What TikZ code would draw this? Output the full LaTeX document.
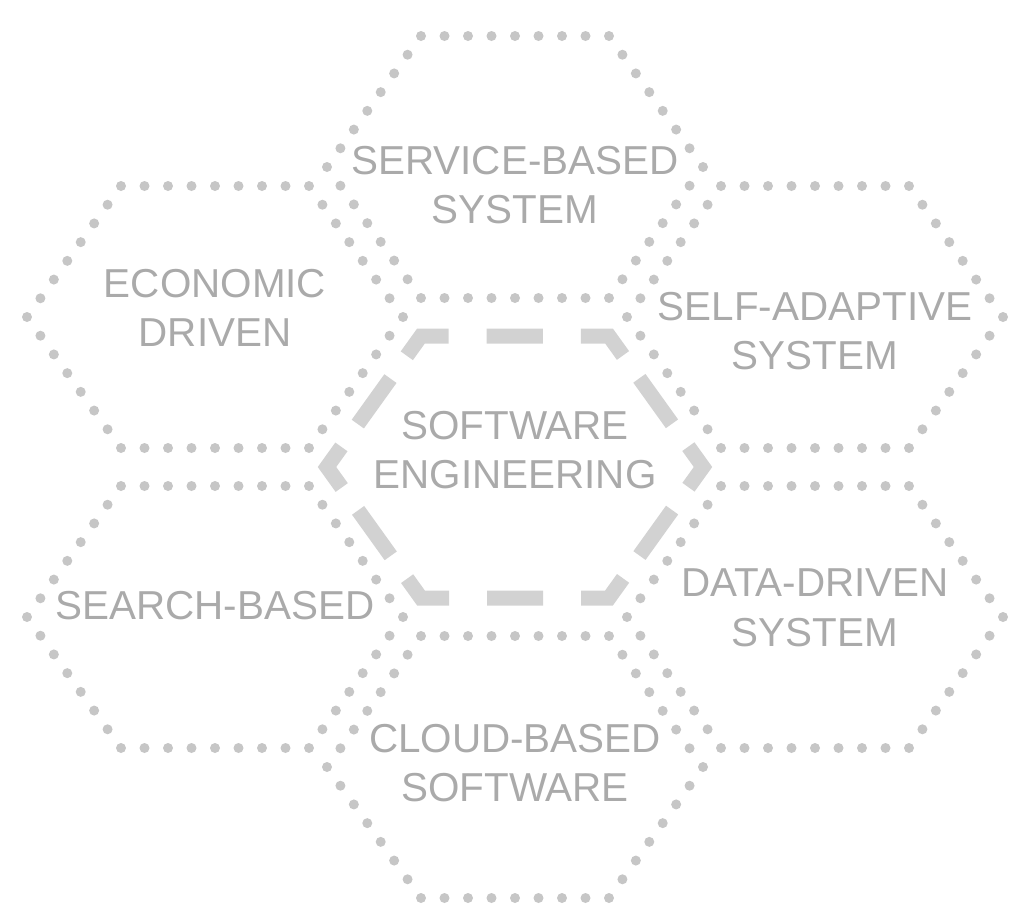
\documentclass[tikz,border=0pt]{standalone}
\usepackage{fontspec}
\setmainfont{Liberation Sans}
\usepackage{xcolor}
\usepackage{tikz}

\definecolor{dotgray}{HTML}{C6C6C6}
\definecolor{dashgray}{HTML}{D2D2D2}
\definecolor{labelgray}{HTML}{AAAAAA}

\tikzset{
  hexdot/.style={fill=dotgray},
  corehex/.style={draw=dashgray, line width=0.3cm, line join=miter,
    dash pattern=on 1.12cm off 0.76cm on 1.04cm off 0.562cm on 1.12cm off 0.562cm
                 on 1cm off 0.562cm on 1.12cm off 0.562cm on 1.04cm off 0.76cm,
    dash phase=0.56cm},
  hexlabel/.style={text=labelgray, align=center, inner sep=0pt,
    font=\fontsize{23}{28.2}\selectfont}
}

% dotted outline of one cell centred at (#1,#2)
\newcommand{\dotcell}[2]{%
  \foreach \ax/\ay/\bx/\by/\n in {-94/-131/94/-131/8, 94/-131/188/0/7, 188/0/94/131/7,
                                  94/131/-94/131/8, -94/131/-188/0/7, -188/0/-94/-131/7} {
    \foreach \k in {1,...,\n} {
      \fill[hexdot] ({#1+(\ax)+((\bx)-(\ax))*\k/\n},{#2+(\ay)+((\by)-(\ay))*\k/\n}) circle (0.1cm);
    }
  }
}

\begin{document}
\begin{tikzpicture}[x=0.02cm, y=-0.02cm]
    \useasboundingbox (0,0) rectangle (1029,920);

    % Centre cell with the thick dashed border
    \draw[corehex] (515,336) -- (609,336) -- (703,467) -- (609,598)
      -- (421,598) -- (327,467) -- (421,336) -- cycle;

    % Dotted cells round it
    \dotcell{515}{167}
    \dotcell{215}{317}
    \dotcell{815}{317}
    \dotcell{215}{617}
    \dotcell{815}{617}
    \dotcell{515}{767}

    % Label the cells
    \node[hexlabel] (core) at (515,450) {SOFTWARE\\ENGINEERING};
    \node[hexlabel] (service) at (515,185) {SERVICE-BASED\\SYSTEM};
    \node[hexlabel] (economic) at (215,308) {ECONOMIC\\DRIVEN};
    \node[hexlabel] (selfadapt) at (815,331) {SELF-ADAPTIVE\\SYSTEM};
    \node[hexlabel] (search) at (215,606) {SEARCH-BASED};
    \node[hexlabel] (datadriven) at (815,608) {DATA-DRIVEN\\SYSTEM};
    \node[hexlabel] (cloud) at (515,763) {CLOUD-BASED\\SOFTWARE};

\end{tikzpicture}
\end{document}
